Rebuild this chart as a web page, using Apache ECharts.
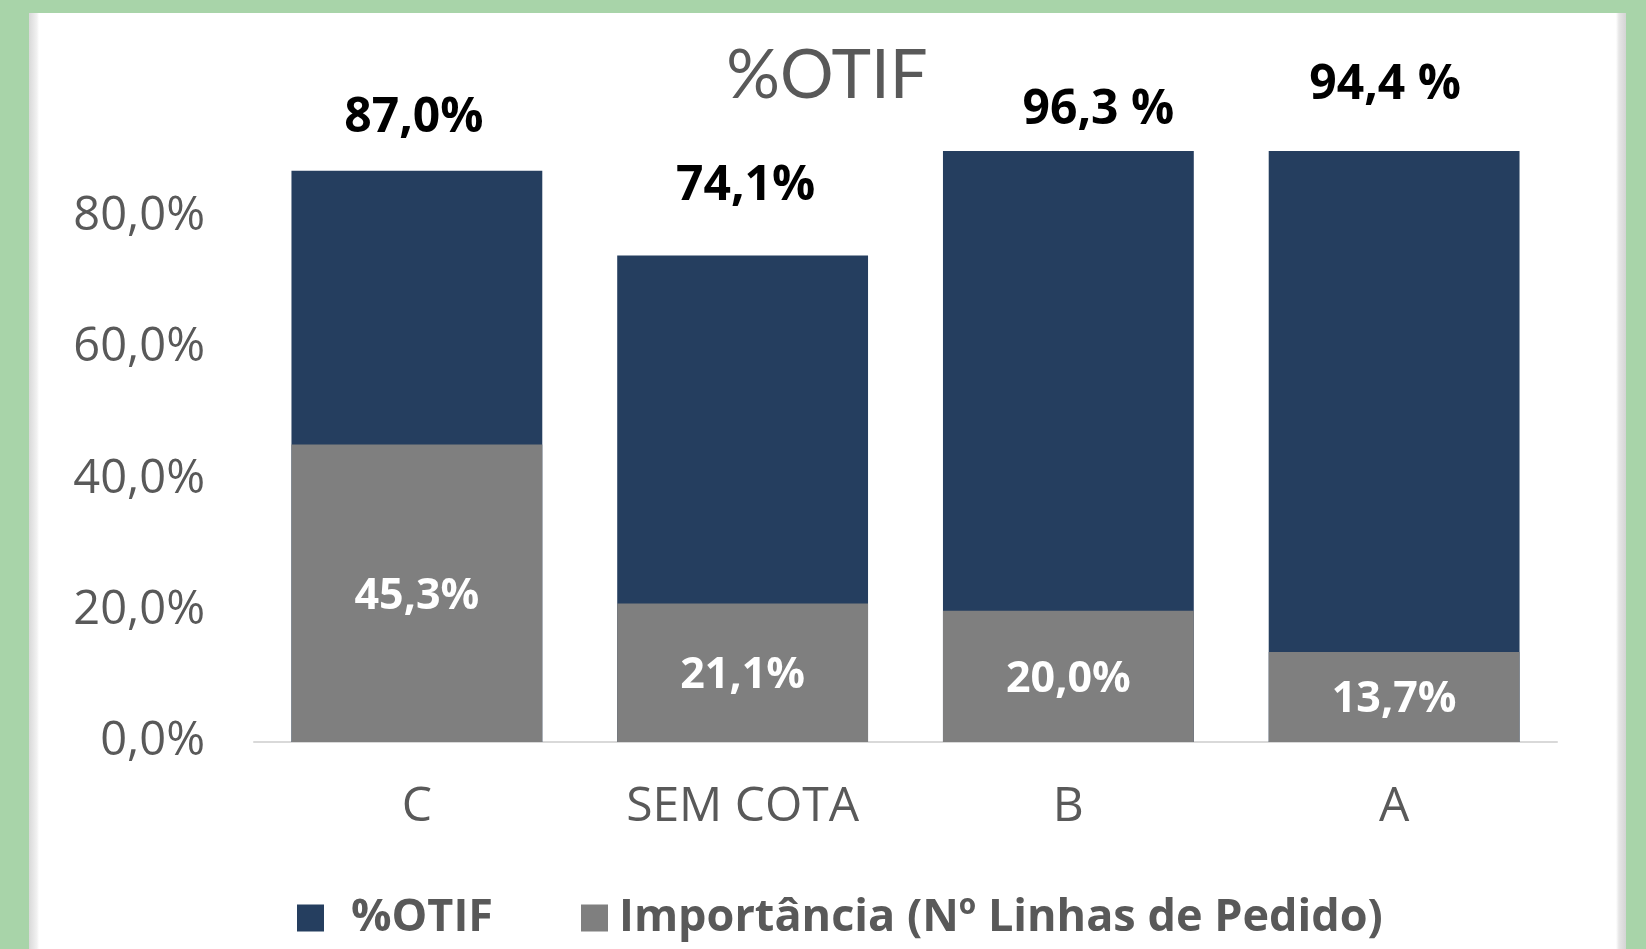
<!DOCTYPE html>
<html>
<head>
<meta charset="utf-8">
<script src="https://cdn.jsdelivr.net/npm/echarts@6/dist/echarts.min.js"></script>
<style>
  html, body { margin: 0; padding: 0; }
  body { width: 1646px; height: 949px; background: #a8d4a9; position: relative; overflow: hidden; }
  .panel {
    position: absolute; left: 29px; top: 13px; width: 1597px; height: 936px;
    background: linear-gradient(to right, #d9d9d9 0px, #f2f2f2 8px, #ffffff 10px, #ffffff 1587px, #e6e6e6 1590px, #d4d4d4 1597px);
  }
  #chart { position: absolute; left: 0; top: 0; width: 1646px; height: 949px; }
</style>
</head>
<body>
<div class="panel"></div>
<div id="chart"></div>
<script>
// dados
const categories = ["C", "SEM COTA", "B", "A"];
const otif = [87.0, 74.1, 96.3, 94.4];
const importancia = [45.3, 21.1, 20.0, 13.7];
const otifPctSep = ["", "", " ", " "];
const yTicks = [0, 20, 40, 60, 80];

// ajustes manuais das etiquetas (como no Excel)
const otifLabelOffset = [[-3, -28], [3, -45], [30, -17], [-9, -42]];

const fmt = v => v.toFixed(1).replace(".", ",");
const font = "'Open Sans', 'Noto Sans', sans-serif";

const chart = echarts.init(document.getElementById("chart"));

const option = {
  animation: false,
  title: {
    text: "%OTIF",
    left: 822,
    top: 38,
    textAlign: "center",
    textStyle: { fontFamily: "Lato, 'Open Sans', sans-serif", fontSize: 67, fontWeight: "normal", color: "#595959" }
  },
  legend: {
    left: 292,
    top: 890,
    itemWidth: 27,
    itemHeight: 27,
    itemGap: 88,
    icon: "rect",
    textStyle: { fontFamily: font, fontSize: 45, fontWeight: "bold", color: "#595959", lineHeight: 46 },
    data: [
      { name: "%OTIF", textStyle: { padding: [0, 0, 0, 22] } },
      { name: "Importância (Nº Linhas de Pedido)", textStyle: { padding: [0, 0, 0, 6] } }
    ]
  },
  grid: { left: 254, right: 89, top: 151, bottom: 207 },
  xAxis: {
    type: "category",
    data: categories,
    axisLine: { lineStyle: { color: "#d9d9d9", width: 2 } },
    axisTick: { show: false },
    axisLabel: { fontFamily: font, fontSize: 48, color: "#595959", margin: 41, lineHeight: 48 }
  },
  yAxis: {
    type: "value",
    min: 0,
    max: 90,
    interval: 20,
    splitLine: { show: false },
    axisLine: { show: false },
    axisTick: { show: false },
    axisLabel: {
      fontFamily: font, fontSize: 47, color: "#595959", margin: 49,
      showMaxLabel: false,
      formatter: v => (yTicks.indexOf(v) >= 0 ? fmt(v) + "%" : "")
    }
  },
  series: [
    {
      name: "%OTIF",
      type: "bar",
      barWidth: "77%",
      itemStyle: { color: "#253e5f" },
      data: otif.map((v, i) => ({
        value: v,
        label: {
          show: true,
          position: "top",
          distance: 0,
          offset: otifLabelOffset[i],
          formatter: () => fmt(v) + otifPctSep[i] + "%"
        }
      })),
      label: { fontFamily: font, fontSize: 48, fontWeight: "bold", color: "#000000", lineHeight: 48 }
    },
    {
      name: "Importância (Nº Linhas de Pedido)",
      type: "bar",
      barWidth: "77%",
      barGap: "-100%",
      itemStyle: { color: "#7f7f7f" },
      data: importancia,
      label: {
        show: true,
        position: "inside",
        offset: [0, 3],
        fontFamily: font, fontSize: 43, fontWeight: "bold", color: "#ffffff",
        formatter: p => fmt(p.value) + "%"
      }
    }
  ]
};

chart.setOption(option);
</script>
</body>
</html>
